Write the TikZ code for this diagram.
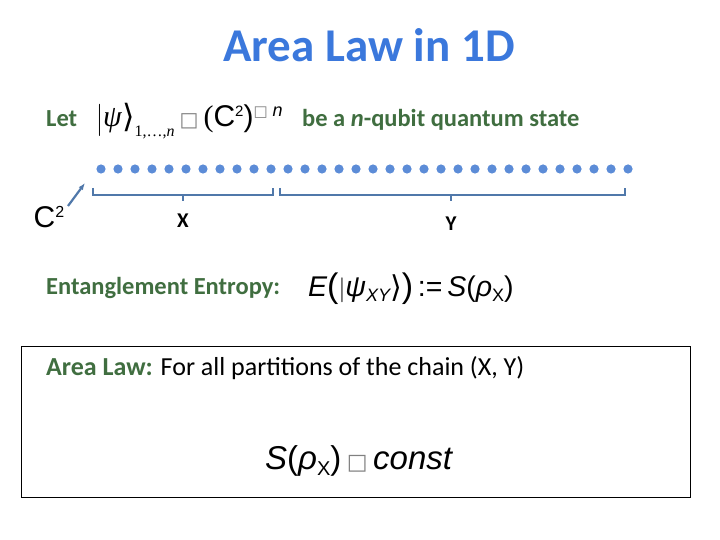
\documentclass[tikz,border=0pt]{standalone}
\usepackage{fontspec}
\usetikzlibrary{arrows.meta}
\setmainfont{Carlito}
\newfontfamily\arial{Liberation Sans}
\newfontfamily\tms{Liberation Serif}
\newfontfamily\djv{DejaVu Sans}
\definecolor{ttl}{RGB}{59,120,220}
\definecolor{grn}{RGB}{64,110,64}
\definecolor{dot}{RGB}{92,140,215}
\definecolor{brk}{RGB}{80,120,170}
\begin{document}
\begin{tikzpicture}[x=1pt,y=-1pt,
  txt/.style={anchor=west,inner sep=0pt,font=\fontsize{26}{28}\selectfont},
  gtxt/.style={anchor=west,inner sep=0pt,text=grn,font=\bfseries\fontsize{24.5}{28}\selectfont},
  mth/.style={anchor=west,inner sep=0pt,font=\arial\itshape\fontsize{28.5}{30}\selectfont},
  brace/.style={draw=brk,line width=2.2pt}]
\useasboundingbox (0,0) rectangle (720,540);
\node[inner sep=0pt,text=ttl,font=\bfseries\fontsize{47}{50}\selectfont] (title) at (369,45) {Area Law in 1D};
\node[gtxt] (let) at (46,119) {Let};
\node[anchor=west,inner sep=0pt] (psi) at (96,121) {\tms\fontsize{30}{32}\selectfont \raisebox{-2pt}{\scalebox{1}[1.3]{$|$}}\textit{ψ}\raisebox{-1pt}{\djv\fontsize{32}{32}\selectfont⟩}\raisebox{-10pt}{\fontsize{16}{16}\selectfont 1,…,\textit{n}}\,{\djv\color{gray}\fontsize{20}{20}\selectfont □}\,(\arial C\raisebox{10pt}{\fontsize{15}{15}\selectfont 2})\raisebox{10pt}{{\djv\color{gray}\fontsize{15}{15}\selectfont □}\,\fontsize{18}{18}\selectfont\textit{n}}};
\node[gtxt] (be) at (302,120) {be a \textit{n}-qubit quantum state};
\foreach \i in {0,...,31} \fill[dot] (101+\i*17,169) circle (4.6);
\node[inner sep=0pt,font=\arial\fontsize{30}{32}\selectfont] (c2) at (49,217) {C\raisebox{10pt}{\fontsize{16}{16}\selectfont 2}};
\coordinate (ctip) at (85,183);
\draw[brk,line width=2.2pt,-{Latex[length=7pt]}] (68,206) -- (ctip);
\draw[brace] (93,188) -- (93,195) -- (273,195) -- (273,188);
\draw[brace] (183,195) -- (183,201);
\draw[brace] (280,188) -- (280,195) -- (625,195) -- (625,188);
\draw[brace] (451,195) -- (451,201);
\node[inner sep=0pt,font=\bfseries\fontsize{21}{22}\selectfont] (x) at (183,221) {X};
\node[inner sep=0pt,font=\bfseries\fontsize{21}{22}\selectfont] (y) at (451,224) {Y};
\node[gtxt] (ee) at (46,288) {Entanglement Entropy:};
\node[mth] (eq) at (308,289) {E\raisebox{-1pt}{\upshape\fontsize{34}{34}\selectfont(}$|$\textit{ψ}\raisebox{-5pt}{\fontsize{18}{18}\selectfont XY}\raisebox{-1pt}{\upshape\djv\fontsize{30}{30}\selectfont⟩}\raisebox{-1pt}{\upshape\fontsize{34}{34}\selectfont)}\upshape\,:=\,\itshape S\upshape(\textit{ρ}\raisebox{-5pt}{\fontsize{18}{18}\selectfont X})};
\draw[line width=0.8pt] (21,346) rectangle (690,497);
\node[txt] (al) at (46,368) {\textcolor{grn}{\bfseries Area Law:} For all partitions of the chain (X, Y)};
\node[mth,font=\arial\itshape\fontsize{33}{36}\selectfont] (s) at (265,461) {S\upshape(\textit{ρ}\raisebox{-6pt}{\fontsize{20}{20}\selectfont X})\,{\djv\color{gray}\fontsize{22}{22}\selectfont □}\,\itshape const};
\end{tikzpicture}
\end{document}
